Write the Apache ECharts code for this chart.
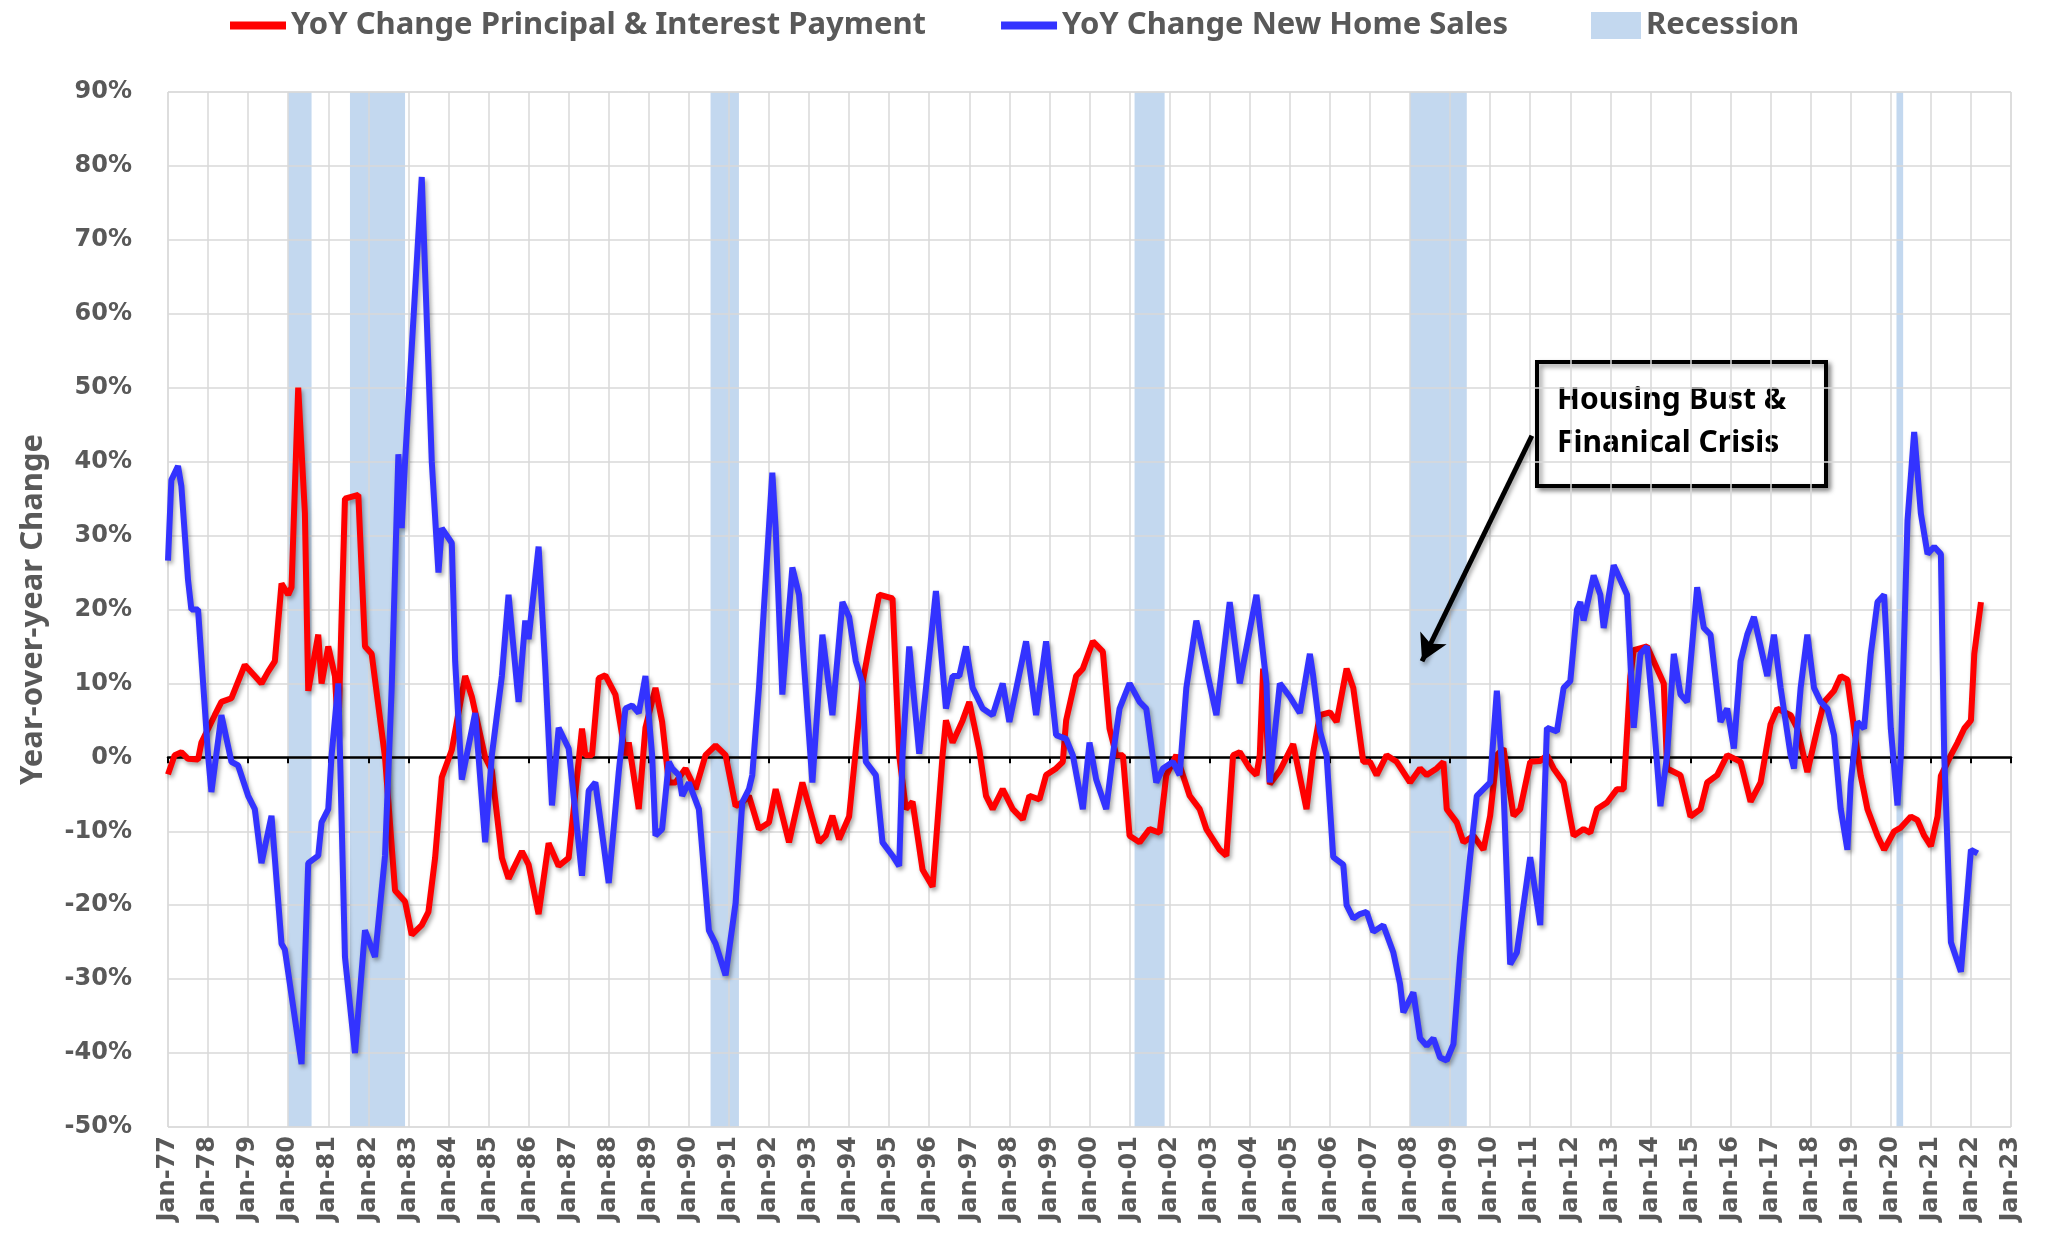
<!DOCTYPE html>
<html>
<head>
<meta charset="utf-8">
<script src="https://cdn.jsdelivr.net/npm/echarts@6/dist/echarts.min.js"></script>
<style>
html,body{margin:0;padding:0;background:#fff;}
#chart{width:2052px;height:1235px;}
</style>
</head>
<body>
<div id="chart"></div>
<script>
// x positions are months counted from Jan-1977 (0 = Jan-77, 12 = Jan-78, ...)
const yearLabels = ['Jan-77','Jan-78','Jan-79','Jan-80','Jan-81','Jan-82','Jan-83','Jan-84','Jan-85','Jan-86',
  'Jan-87','Jan-88','Jan-89','Jan-90','Jan-91','Jan-92','Jan-93','Jan-94','Jan-95','Jan-96','Jan-97','Jan-98',
  'Jan-99','Jan-00','Jan-01','Jan-02','Jan-03','Jan-04','Jan-05','Jan-06','Jan-07','Jan-08','Jan-09','Jan-10',
  'Jan-11','Jan-12','Jan-13','Jan-14','Jan-15','Jan-16','Jan-17','Jan-18','Jan-19','Jan-20','Jan-21','Jan-22','Jan-23'];
const yTicks = [-50,-40,-30,-20,-10,0,10,20,30,40,50,60,70,80,90];

// YoY Change Principal & Interest Payment (%)
const piMonths = [0,2,4,6,9,10,14,16,19,23,26,28,30,32,34,36,37,39,41,42,45,46,48,50,51,53,57,59,61,65,
  68,71,73,76,78,80,82,85,89,91,95,97,100,102,106,108,111,114,117,120,124,125,127,129,131,134,137,138,141,143,
  146,148,150,152,155,158,161,164,167,170,172,174,177,180,182,186,190,195,197,199,201,204,206,208,210,213,217,219,221,223,
  226,229,232,233,235,238,240,243,245,247,250,253,256,258,261,263,266,268,269,272,274,277,280,282,284,286,288,291,294,297,
  299,302,306,309,311,315,317,319,321,324,326,327,328,330,333,337,341,343,345,348,350,353,355,358,360,362,365,368,372,375,
  377,380,382,383,386,388,391,394,396,398,400,403,405,408,411,413,415,418,421,424,426,428,431,434,436,438,439,443,446,448,
  449,453,456,459,461,464,467,471,474,477,480,482,486,488,491,494,496,499,501,503,505,507,509,512,514,517,519,522,524,526,
  528,530,531,534,536,538,540,541,543];
const piValues = [-2.3,0.3,0.7,-0.2,-0.3,2.0,5.7,7.5,8.0,12.5,11.0,10.0,11.6,13.0,23.5,22.0,23.0,50.0,33.0,9.0,16.6,10.0,15.0,11.0,3.0,35.0,35.5,15.0,14.0,0.0,
  -18.0,-19.5,-24.0,-22.7,-20.9,-13.6,-2.7,1.0,11.0,8.2,0.0,-1.8,-13.6,-16.4,-12.7,-14.5,-21.2,-11.6,-14.7,-13.6,3.9,0.3,0.3,10.7,11.1,8.5,0.3,2.0,-7.0,4.0,
  9.4,4.8,-3.4,-3.4,-1.5,-4.3,0.3,1.6,0.3,-6.6,-6.1,-5.2,-9.7,-8.8,-4.3,-11.5,-3.4,-11.5,-10.6,-7.9,-11.1,-8.0,1.0,10.0,15.0,22.0,21.5,0.3,-7.0,-6.0,
  -15.2,-17.5,0.3,5.0,2.0,5.0,7.5,1.0,-5.2,-7.0,-4.3,-7.0,-8.4,-5.2,-5.7,-2.4,-1.5,-0.6,5.0,11.0,12.0,15.7,14.3,3.9,0.3,0.3,-10.6,-11.5,-9.7,-10.2,
  -2.4,0.3,-5.2,-7.0,-9.7,-12.5,-13.3,0.3,0.7,-1.5,-2.4,0.3,12.0,-3.6,-1.8,1.8,-7.0,0.7,5.7,6.1,4.8,12.0,9.4,-0.6,-0.6,-2.4,0.3,-0.6,-3.4,-1.5,
  -2.4,-1.5,-0.6,-7.0,-8.8,-11.5,-10.6,-12.5,-7.9,0.3,1.2,-7.9,-7.0,-0.6,-0.5,0.3,-1.5,-3.4,-10.6,-9.7,-10.2,-7.0,-6.1,-4.3,-4.3,11.0,14.5,15.0,12.0,10.0,
  -1.5,-2.4,-8.0,-7.0,-3.4,-2.4,0.3,-0.6,-6.0,-3.4,4.5,6.6,5.7,3.9,-2.0,3.9,7.5,9.0,11.0,10.5,3.9,-2.5,-7.0,-10.6,-12.5,-10.0,-9.5,-8.0,-8.5,-10.6,
  -12.0,-8.0,-2.5,0.3,2.0,3.9,5.0,14.0,21.0];

// YoY Change New Home Sales (%)
const nhsMonths = [0,1,3,4,6,7,9,12,13,16,19,21,24,26,28,31,34,35,40,42,45,46,48,49,51,53,56,59,62,65,
  67,69,70,71,76,79,81,82,85,86,88,92,95,97,100,102,105,107,108,111,113,115,117,120,124,126,128,132,135,137,
  139,141,143,145,146,148,150,151,153,154,156,159,161,162,164,167,170,172,174,175,177,181,182,184,187,189,193,196,199,202,
  204,206,208,209,212,214,217,219,220,222,225,230,233,235,237,239,241,244,247,250,252,257,260,263,266,269,271,274,276,278,
  281,283,285,288,291,293,296,298,301,303,305,308,311,314,318,321,326,329,330,333,336,339,342,343,345,347,349,352,353,355,
  357,359,361,364,367,369,370,373,375,377,379,381,383,385,387,390,392,394,396,398,400,402,404,408,411,413,416,418,420,422,
  423,424,427,429,430,433,436,437,439,441,443,445,447,449,451,453,455,458,460,462,465,467,469,471,473,475,479,481,483,486,
  487,489,491,493,495,497,499,501,503,504,506,508,510,512,514,516,518,519,521,523,525,527,529,531,532,534,537,539,540,542];
const nhsValues = [26.6,37.5,39.4,36.7,24.0,20.0,20.0,0.3,-4.7,5.7,-0.6,-1.1,-5.2,-7.0,-14.3,-7.9,-25.2,-26.0,-41.5,-14.3,-13.3,-8.8,-7.0,0.3,10.0,-27.0,-40.0,-23.4,-27.0,-13.3,
  9.4,41.0,31.0,40.0,78.5,40.0,25.0,31.0,29.0,13.0,-3.0,6.0,-11.5,0.3,11.0,22.0,7.5,18.5,16.0,28.5,12.0,-6.5,4.0,1.2,-16.0,-4.5,-3.4,-17.0,-2.0,6.6,
  7.0,6.0,11.0,0.3,-10.6,-9.7,-0.6,-1.5,-2.4,-5.2,-3.4,-7.0,-17.9,-23.4,-25.2,-29.5,-19.7,-6.1,-4.3,-2.4,9.4,38.5,31.0,8.5,25.7,22.0,-3.4,16.6,5.7,21.0,
  19.0,13.0,10.0,-0.6,-2.4,-11.5,-13.3,-14.7,0.3,15.0,0.5,22.5,6.6,11.0,11.0,15.0,9.4,6.6,5.7,10.0,4.8,15.7,5.7,15.7,3.0,2.5,0.3,-7.0,2.0,-3.0,
  -7.0,0.3,6.6,10.0,7.5,6.6,-3.4,-1.5,-0.6,-2.4,9.4,18.5,12.0,5.7,21.0,10.0,22.0,10.0,-3.4,10.0,8.2,6.0,14.0,11.0,3.6,0.3,-13.5,-14.5,-20.0,-21.8,
  -21.2,-20.9,-23.6,-22.7,-26.4,-30.6,-34.5,-31.8,-38.0,-39.0,-38.0,-40.6,-41.0,-38.8,-27.0,-13.5,-5.2,-4.3,-3.4,9.0,-4.3,-28.0,-26.4,-13.5,-22.7,4.0,3.5,9.4,10.3,20.0,
  21.0,18.5,24.6,22.0,17.5,26.0,23.0,22.0,4.0,14.0,15.0,4.8,-6.6,0.3,14.0,8.5,7.5,23.0,17.5,16.6,4.8,6.6,1.2,13.0,16.6,19.0,11.0,16.6,9.4,0.3,
  -1.5,9.4,16.6,9.4,7.5,6.6,3.0,-7.0,-12.5,-3.4,4.8,3.9,14.0,21.0,22.0,3.9,-6.5,0.3,32.0,44.0,33.0,27.5,28.5,27.5,0.3,-25.0,-29.0,-18.0,-12.5,-13.0];

// Recessions (start / end, months from Jan-77)
const recessionStart = [36, 54.5, 162.5, 289.5, 372, 517.7];
const recessionEnd   = [43, 71, 171, 298.5, 389, 519.7];

const annotationLines = ['Housing Bust &', 'Finanical Crisis'];
const arrowFrom = [408.5, 43.5];
const arrowTo = [375.6, 13];

const RED_NAME = 'YoY Change Principal & Interest Payment';
const BLUE_NAME = 'YoY Change New Home Sales';

const piData = piMonths.map((m, i) => [m, piValues[i]]);
const nhsData = nhsMonths.map((m, i) => [m, nhsValues[i]]);
const recData = recessionStart.map((s, i) => [s, recessionEnd[i]]);

const chart = echarts.init(document.getElementById('chart'), null, {renderer: 'canvas'});
const gray = '#595959';
const gridColor = '#d9d9d9';
const lineShadow = {shadowColor: 'rgba(0,0,0,0.35)', shadowBlur: 4, shadowOffsetX: 2, shadowOffsetY: 3};

chart.setOption({
  animation: false,
  backgroundColor: '#fff',
  grid: {left: 168, right: 41, top: 92, bottom: 108, show: true, borderColor: gridColor, borderWidth: 1},
  legend: [
    {
      left: 225, top: 5, itemWidth: 56, itemHeight: 8, itemGap: 75, selectedMode: false,
      data: [{name: RED_NAME, icon: 'rect'}, {name: BLUE_NAME, icon: 'rect'}],
      textStyle: {fontFamily: 'Noto Sans', fontWeight: 'bold', fontSize: 31, color: gray}
    },
    {
      left: 1586, top: 5, itemWidth: 50, itemHeight: 27, selectedMode: false,
      data: [{name: 'Recession', icon: 'rect'}],
      textStyle: {fontFamily: 'Noto Sans', fontWeight: 'bold', fontSize: 31, color: gray}
    }
  ],
  xAxis: [
    {
      type: 'value', position: 'bottom', min: 0, max: 552, interval: 12,
      axisLine: {show: false, onZero: false}, axisTick: {show: false},
      splitLine: {show: true, lineStyle: {color: gridColor, width: 1.5}},
      axisLabel: {
        rotate: 90, margin: 9, color: gray, fontFamily: 'DejaVu Sans', fontWeight: 'bold', fontSize: 24,
        formatter: v => yearLabels[Math.round(v / 12)] || ''
      }
    },
    {
      type: 'value', position: 'top', min: 0, max: 552, interval: 12,
      axisLine: {show: true, onZero: true, lineStyle: {color: '#000', width: 2.5}},
      axisTick: {show: true, inside: true, length: 6, lineStyle: {color: '#000', width: 2}},
      axisLabel: {show: false}, splitLine: {show: false}
    }
  ],
  yAxis: {
    type: 'value', min: yTicks[0], max: yTicks[yTicks.length - 1], interval: 10,
    axisLine: {show: false}, axisTick: {show: false},
    splitLine: {show: true, lineStyle: {color: gridColor, width: 1.5}},
    axisLabel: {margin: 36, color: gray, fontFamily: 'DejaVu Sans', fontWeight: 'bold', fontSize: 24, formatter: '{value}%'},
    name: 'Year-over-year Change', nameLocation: 'middle', nameGap: 119, nameRotate: 90,
    nameTextStyle: {fontFamily: 'Noto Sans', fontWeight: 'bold', fontSize: 31, color: gray}
  },
  series: [
    {
      name: 'Recession', type: 'custom', xAxisIndex: 0, z: -1, silent: true,
      itemStyle: {color: '#c3d8ef'},
      encode: {x: [0, 1]},
      data: recData,
      renderItem: function (params, api) {
        const a = api.coord([api.value(0), 0]);
        const b = api.coord([api.value(1), 0]);
        const cs = params.coordSys;
        return {type: 'rect', shape: {x: a[0], y: cs.y, width: b[0] - a[0], height: cs.height},
                style: {fill: '#c3d8ef'}};
      }
    },
    {
      name: RED_NAME, type: 'line', xAxisIndex: 0, data: piData, showSymbol: false, symbol: 'none',
      itemStyle: {color: '#ff0000'},
      lineStyle: Object.assign({color: '#ff0000', width: 6}, lineShadow),
      markLine: {
        silent: true, symbol: ['none', 'arrow'], symbolSize: [22, 26], label: {show: false},
        lineStyle: Object.assign({color: '#000', width: 5, type: 'solid'}, lineShadow),
        data: [[{coord: arrowFrom}, {coord: arrowTo}]]
      }
    },
    {
      name: BLUE_NAME, type: 'line', xAxisIndex: 0, data: nhsData, showSymbol: false, symbol: 'none',
      itemStyle: {color: '#3333ff'},
      lineStyle: Object.assign({color: '#3333ff', width: 6}, lineShadow)
    }
  ],
  graphic: [
    {
      type: 'group', z: 100,
      children: [
        {type: 'rect', shape: {x: 1537, y: 362, width: 289, height: 124},
         style: {fill: '#fff', stroke: '#000', lineWidth: 4, shadowColor: 'rgba(0,0,0,0.4)', shadowBlur: 5, shadowOffsetX: 3, shadowOffsetY: 3}},
        {type: 'text', style: {text: annotationLines[0], x: 1557, y: 400, fill: '#000', verticalAlign: 'middle',
          font: 'bold 30px "Noto Sans"'}},
        {type: 'text', style: {text: annotationLines[1], x: 1557, y: 443, fill: '#000', verticalAlign: 'middle',
          font: 'bold 30px "Noto Sans"'}}
      ]
    }
  ]
});
</script>
</body>
</html>
